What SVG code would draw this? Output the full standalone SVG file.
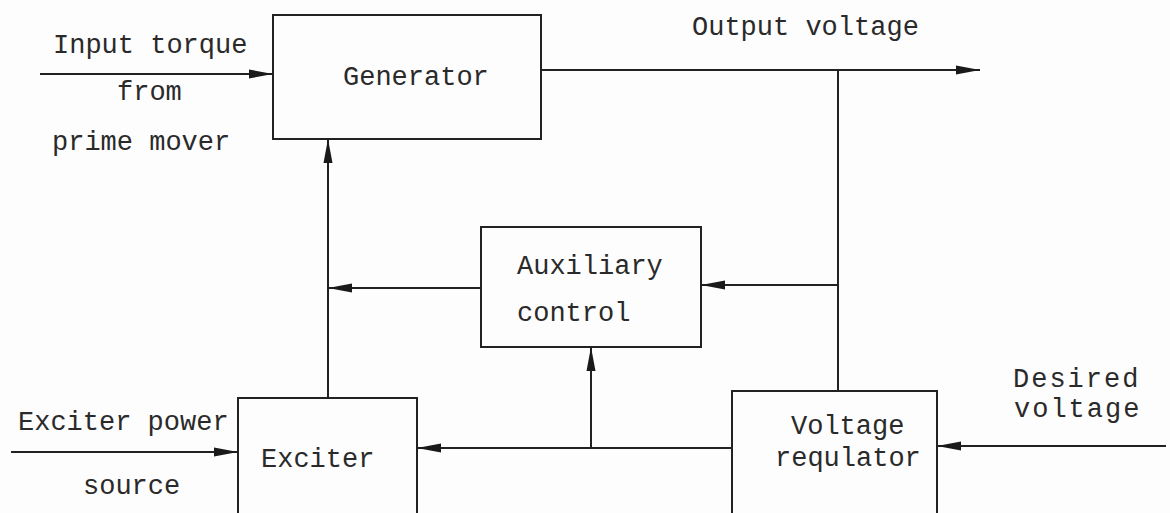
<svg xmlns="http://www.w3.org/2000/svg" width="1170" height="513" viewBox="0 0 1170 513">
<defs>
<style>
.box{fill:none;stroke:#222;stroke-width:2}
.ln{fill:none;stroke:#222;stroke-width:2}
.t{font-family:"Liberation Mono","DejaVu Sans Mono",monospace;font-size:27px;fill:#2a2a2a}
</style>
<marker id="ah" viewBox="0 0 24 10" refX="24" refY="5" markerWidth="24" markerHeight="10" markerUnits="userSpaceOnUse" orient="auto">
<path d="M0,0.5 L24,5 L0,9.5 z" fill="#1a1a1a"/>
</marker>
</defs>
<rect width="1170" height="513" fill="#fdfdfd"/>
<g id="generator">
<rect class="box" x="273" y="15" width="268" height="124"/>
<text class="t" x="343" y="85">Generator</text>
</g>
<g id="auxiliary-control">
<rect class="box" x="481" y="227" width="220" height="120"/>
<text class="t" x="517" y="274">Auxiliary</text>
<text class="t" x="517" y="321">control</text>
</g>
<g id="exciter">
<rect class="box" x="238" y="398" width="179" height="130"/>
<text class="t" x="261" y="467">Exciter</text>
</g>
<g id="voltage-regulator">
<rect class="box" x="732" y="391" width="205" height="140"/>
<text class="t" x="791" y="434">Voltage</text>
<text class="t" x="775" y="466">requlator</text>
</g>
<g id="labels">
<text class="t" x="53" y="53">Input torque</text>
<text class="t" x="117" y="100">from</text>
<text class="t" x="52" y="150">prime mover</text>
<text class="t" x="692" y="35">Output voltage</text>
<text class="t" x="18" y="430">Exciter power</text>
<text class="t" x="83" y="494">source</text>
<text class="t" x="1013" y="387" letter-spacing="2">Desired</text>
<text class="t" x="1014" y="417" letter-spacing="2">voltage</text>
</g>
<g id="connectors">
<path class="ln" d="M40,74 H273" marker-end="url(#ah)"/>
<path class="ln" d="M541,70 H980" marker-end="url(#ah)"/>
<path class="ln" d="M838,70 V391"/>
<path class="ln" d="M838,285 H701" marker-end="url(#ah)"/>
<path class="ln" d="M481,288 H328" marker-end="url(#ah)"/>
<path class="ln" d="M328,398 V139" marker-end="url(#ah)"/>
<path class="ln" d="M11,452 H238" marker-end="url(#ah)"/>
<path class="ln" d="M732,448 H417" marker-end="url(#ah)"/>
<path class="ln" d="M591,448 V347" marker-end="url(#ah)"/>
<path class="ln" d="M1166,446 H937" marker-end="url(#ah)"/>
</g>
</svg>
